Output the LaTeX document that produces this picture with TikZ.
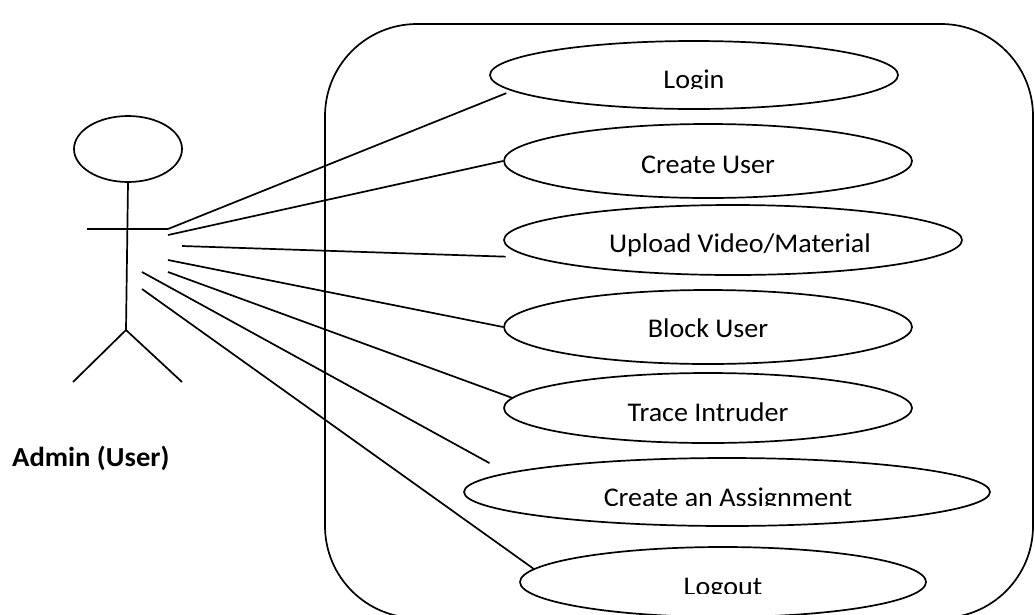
\documentclass[tikz,border=0pt]{standalone}
\usepackage{fontspec}
\setmainfont{Carlito}[FakeStretch=1.04]
\usetikzlibrary{shapes.geometric}
\begin{document}
\begin{tikzpicture}[x=1pt,y=-1pt,
  ink/.style={line width=1.7pt, draw=black},
  usecase/.style={ink, ellipse, inner sep=0pt},
  uclabel/.style={anchor=base, inner sep=0pt, font=\fontsize{27}{32}\selectfont},
  link/.style={ink},
]
\useasboundingbox (0,0) rectangle (1035,614);

% system boundary
\draw[ink, rounded corners=92pt] (325,24) rectangle (1033,618);

% actor
\node[ink, ellipse, minimum width=108pt, minimum height=66pt, inner sep=0pt] (head) at (128,149) {};
\coordinate (hip) at (126,330);
\coordinate (lhand) at (87,229);
\coordinate (rhand) at (168,229);
\coordinate (lfoot) at (73,382);
\coordinate (rfoot) at (182,382);
\draw[ink] (head.south) -- (hip);
\draw[ink] (lhand) -- (rhand);
\draw[ink] (lfoot) -- (hip) -- (rfoot);
\node[anchor=base west, inner sep=0pt, font=\fontsize{27.5}{32}\selectfont\bfseries] (actor) at (12,466) {Admin (User)};

% use cases
\node[usecase, minimum width=408pt, minimum height=68pt] (login)  at (694,75)  {};
\node[usecase, minimum width=408pt, minimum height=74pt] (create) at (708,161) {};
\node[usecase, minimum width=458pt, minimum height=70pt] (upload) at (733,240) {};
\node[usecase, minimum width=408pt, minimum height=74pt] (block)  at (708,327) {};
\node[usecase, minimum width=408pt, minimum height=70pt] (trace)  at (708,408) {};
\node[usecase, minimum width=526pt, minimum height=68pt] (assign) at (727,492) {};
\node[usecase, minimum width=406pt, minimum height=70pt] (logout) at (723,582) {};

% use case titles (some are cut off at the bottom of their text boxes)
\begin{scope}
  \clip (0,0) rectangle (1035,88.5);
  \node[uclabel] (login-t) at (694,88) {Login};
\end{scope}
\node[uclabel] (create-t) at (708,173) {Create User};
\node[uclabel] (upload-t) at (740,252) {Upload Video/Material};
\node[uclabel] (block-t)  at (708,337.5) {Block User};
\node[uclabel] (trace-t)  at (708,421) {Trace Intruder};
\begin{scope}
  \clip (0,0) rectangle (1035,505.5);
  \node[uclabel] (assign-t) at (728,506) {Create an Assignment};
\end{scope}
\begin{scope}
  \clip (0,0) rectangle (1035,593.5);
  \node[uclabel] (logout-t) at (723,595) {Logout};
\end{scope}

% association start points on the actor
\coordinate (s2) at (168,235);
\coordinate (s3) at (182,246);
\coordinate (s4) at (168,260);
\coordinate (s5) at (168,272);
\coordinate (s6) at (142,272);
\coordinate (s7) at (142,289);

% associations
\draw[link, shorten >=6pt]  (rhand) -- (login.185);
\draw[link]                 (s2) -- (create.180);
\draw[link, shorten >=27pt] (s3) -- (upload.185);
\draw[link]                 (s4) -- (block.180);
\draw[link]                 (s5) -- (trace.177);
\draw[link, shorten >=20pt] (s6) -- (assign.175.6);
\draw[link]                 (s7) -- (logout.176.5);
\end{tikzpicture}
\end{document}
